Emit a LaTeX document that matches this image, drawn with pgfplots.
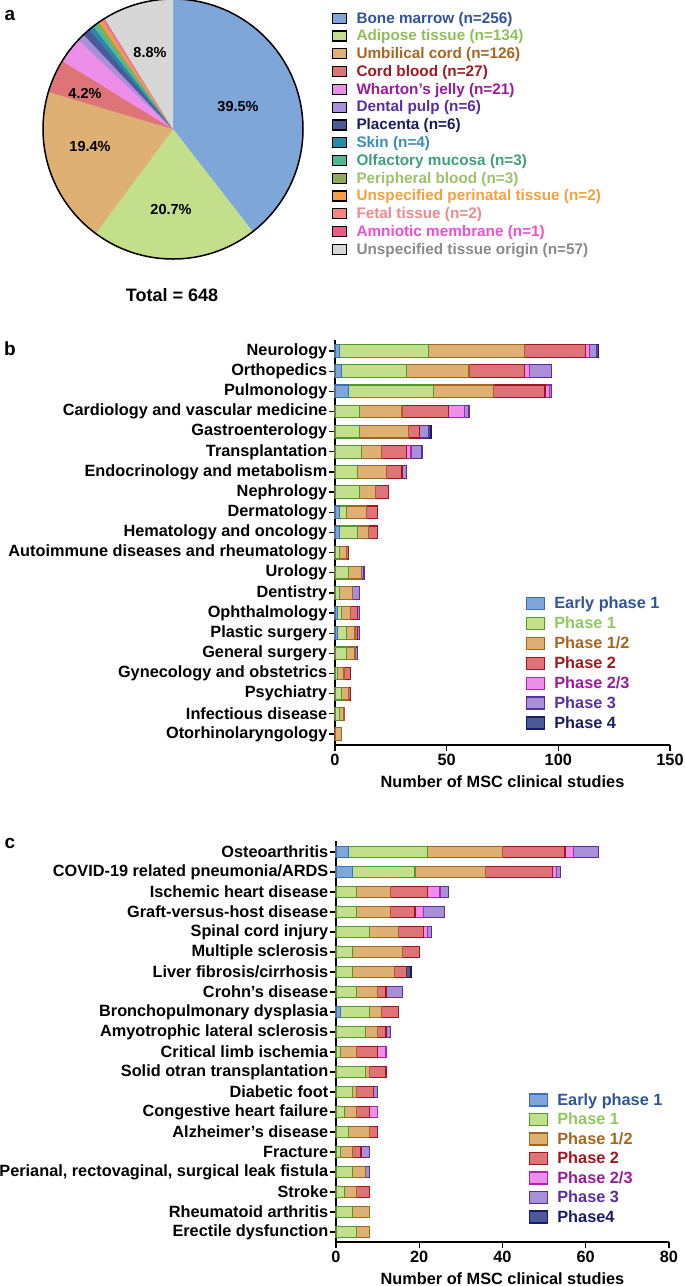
\documentclass[border=0pt]{standalone}
\usepackage{pgfplots}
\pgfplotsset{compat=1.18}
\usepackage{pgfplotstable}
\usepackage{fontspec}
\setmainfont{Liberation Sans}

\newcommand\fb{\bfseries\fontsize{16.3}{18}\selectfont}
\newcommand\fl{\bfseries\fontsize{15.3}{16}\selectfont}

% pie colours
\definecolor{s1}{HTML}{7EA6D9}\definecolor{t1}{HTML}{2F5597}
\definecolor{s2}{HTML}{C3DF8C}\definecolor{t2}{HTML}{8DC05A}
\definecolor{s3}{HTML}{DEB074}\definecolor{t3}{HTML}{A5661F}
\definecolor{s4}{HTML}{DF7478}\definecolor{t4}{HTML}{A01A22}
\definecolor{s5}{HTML}{EC8EEA}\definecolor{t5}{HTML}{9A1B9C}
\definecolor{s6}{HTML}{A890D8}\definecolor{t6}{HTML}{5B2EA0}
\definecolor{s7}{HTML}{4B5899}\definecolor{t7}{HTML}{1B1C5E}
\definecolor{s8}{HTML}{2A88A8}\definecolor{t8}{HTML}{3A8FB0}
\definecolor{s9}{HTML}{4FB79A}\definecolor{t9}{HTML}{3FA07A}
\definecolor{s10}{HTML}{8FAB55}\definecolor{t10}{HTML}{9CC26A}
\definecolor{s11}{HTML}{F5A040}\definecolor{t11}{HTML}{F5A040}
\definecolor{s12}{HTML}{F48484}\definecolor{t12}{HTML}{F08A8A}
\definecolor{s13}{HTML}{EE5A88}\definecolor{t13}{HTML}{EE4FD0}
\definecolor{s14}{HTML}{D7D7D7}\definecolor{t14}{HTML}{8A8A8A}
% bar colours
\definecolor{f1}{HTML}{7EA6D9}\definecolor{b1}{HTML}{3A70B8}\definecolor{l1}{HTML}{2F5597}
\definecolor{f2}{HTML}{C3DF8C}\definecolor{b2}{HTML}{4E9A2A}\definecolor{l2}{HTML}{8FCB5C}
\definecolor{f3}{HTML}{DEB074}\definecolor{b3}{HTML}{A2671F}\definecolor{l3}{HTML}{A5661F}
\definecolor{f4}{HTML}{DF7478}\definecolor{b4}{HTML}{A3151E}\definecolor{l4}{HTML}{A3151E}
\definecolor{f5}{HTML}{EC8EEA}\definecolor{b5}{HTML}{B023B0}\definecolor{l5}{HTML}{9A1B9C}
\definecolor{f6}{HTML}{A890D8}\definecolor{b6}{HTML}{5A2DA0}\definecolor{l6}{HTML}{5B2EA0}
\definecolor{f7}{HTML}{4B5899}\definecolor{b7}{HTML}{1A1C62}\definecolor{l7}{HTML}{1B1C5E}

\pgfplotstableread{
y e1 p1 p12 p2 p23 p3 p4
19 2 40 43 27 2 3 1
18 3 29 28 25 2 10 0
17 6 38 27 23 2 1 0
16 0 11 19 21 7 2 0
15 0 11 22 5 0 4 1
14 0 12 9 11 2 5 0
13 0 10 13 7 0 2 0
12 0 11 7 6 0 0 0
11 2 3 9 5 0 0 0
10 2 8 5 4 0 0 0
9 0 2 3 1 0 0 0
8 0 6 6 0 0 1 0
7 0 2 6 0 0 3 0
6 1 2 4 3 0 1 0
5 1 4 4 1 0 1 0
4 0 5 4 0 0 1 0
3 0 1 3 3 0 0 0
2 0 3 3 1 0 0 0
1 0 2 2 0 0 0 0
0 0 0 3 0 0 0 0
}\tabB

\pgfplotstableread{
y e1 p1 p12 p2 p23 p3 p4
19 3 19 18 15 2 6 0
18 4 15 17 16 1 1 0
17 0 5 8 9 3 2 0
16 0 5 8 6 2 5 0
15 0 8 7 6 1 1 0
14 0 4 12 4 0 0 0
13 0 4 10 3 0 0 1
12 0 5 5 2 0 4 0
11 1 7 3 4 0 0 0
10 0 7 3 2 0 1 0
9 0 1 4 5 2 0 0
8 0 7 1 4 0 0 0
7 0 4 1 4 0 1 0
6 0 2 3 3 2 0 0
5 0 3 5 2 0 0 0
4 0 1 3 2 0 2 0
3 0 4 3 0 0 1 0
2 0 2 3 3 0 0 0
1 0 4 4 0 0 0 0
0 0 5 3 0 0 0 0
}\tabC

\newcommand\mkcum[1]{%
\pgfplotstablecreatecol[expr={\thisrow{e1}}]{c1}#1%
\pgfplotstablecreatecol[expr={\thisrow{c1}+\thisrow{p1}}]{c2}#1%
\pgfplotstablecreatecol[expr={\thisrow{c2}+\thisrow{p12}}]{c3}#1%
\pgfplotstablecreatecol[expr={\thisrow{c3}+\thisrow{p2}}]{c4}#1%
\pgfplotstablecreatecol[expr={\thisrow{c4}+\thisrow{p23}}]{c5}#1%
\pgfplotstablecreatecol[expr={\thisrow{c5}+\thisrow{p3}}]{c6}#1%
\pgfplotstablecreatecol[expr={\thisrow{c6}+\thisrow{p4}}]{c7}#1%
}
\mkcum\tabB
\mkcum\tabC

\pgfplotsset{
  sb/.style n args={2}{xbar, bar shift=0pt, fill=#1, draw=#2, line width=1.2pt,
     x filter/.expression={x<=0 ? nan : x}},
  panel/.style={
    scale only axis,
    axis lines*=left,
    axis line style={line width=1.4pt, black},
    tick align=outside, major tick length=6pt,
    tick style={line width=1.3pt, black},
    tick label style={font=\fb, text=black},
    yticklabel style={inner xsep=1.5pt},
    /pgf/number format/assume math mode=true,
    ytick={0,...,19},
    xlabel={Number of MSC clinical studies},
    xlabel style={font=\fb, yshift=-3pt},
    legend cell align=left,
    reverse legend,
    legend image code/.code={\draw[##1] (0pt,-6pt) rectangle (18pt,6pt);},
  },
}

\newcommand\pa[1]{\csname pa#1\endcsname}
\newcommand\pb[1]{\csname pb#1\endcsname}

\begin{document}
\begin{tikzpicture}
\useasboundingbox (0pt,0pt) rectangle (685pt,-1286pt);
% cumulative pie angles from the counts
\def\pieangle{90}%
\newcount\pidx \pidx=0 %
\pgfplotsforeachungrouped \v in {256,134,126,27,21,6,6,4,3,3,2,2,1,57}{%
  \advance\pidx by 1 %
  \expandafter\xdef\csname pb\the\pidx\endcsname{\pieangle}%
  \pgfmathsetmacro\pieangle{\pieangle-\v/648*360}%
  \expandafter\xdef\csname pa\the\pidx\endcsname{\pieangle}%
}%

% ---------------- panel a -----------------
\begin{axis}[
  at={(173pt,-129pt)}, anchor=center,
  x=1pt, y=1pt, xmin=-131, xmax=131, ymin=-131, ymax=131,
  hide axis, clip=false,
  legend style={at={(1.094,0.961)}, anchor=north west, draw=none, fill=none,
     font=\fl, row sep=2.2pt, nodes={inner sep=1.5pt},
     /tikz/every odd column/.append style={column sep=8pt}},
  legend cell align=left,
  legend image code/.code={\draw[#1] (0pt,-5pt) rectangle (14pt,5pt);},
]
\pgfplotsinvokeforeach{1,...,14}{
  \fill[s#1, draw=s#1, line width=0.3pt] (axis cs:0,0) -- ++(\pb{#1}:130pt)
     arc[start angle=\pb{#1}, end angle=\pa{#1}, radius=130pt] -- cycle;
}
\draw[line width=1.5pt] (axis cs:0,0) circle[radius=130pt];
\node[font=\bfseries\fontsize{14.5}{16}\selectfont] at (axis cs:65,22) {39.5\%};
\node[font=\bfseries\fontsize{14.5}{16}\selectfont] at (axis cs:-2,-81) {20.7\%};
\node[font=\bfseries\fontsize{14.5}{16}\selectfont] at (axis cs:-83,-18) {19.4\%};
\node[font=\bfseries\fontsize{14.5}{16}\selectfont] at (axis cs:-88,36) {4.2\%};
\node[font=\bfseries\fontsize{14.5}{16}\selectfont] at (axis cs:-23,76) {8.8\%};
\addlegendimage{fill=s1, draw=black, line width=1.2pt}\addlegendentry{\textcolor{t1}{Bone marrow (n=256)}}
\addlegendimage{fill=s2, draw=black, line width=1.2pt}\addlegendentry{\textcolor{t2}{Adipose tissue (n=134)}}
\addlegendimage{fill=s3, draw=black, line width=1.2pt}\addlegendentry{\textcolor{t3}{Umbilical cord (n=126)}}
\addlegendimage{fill=s4, draw=black, line width=1.2pt}\addlegendentry{\textcolor{t4}{Cord blood (n=27)}}
\addlegendimage{fill=s5, draw=black, line width=1.2pt}\addlegendentry{\textcolor{t5}{Wharton's jelly (n=21)}}
\addlegendimage{fill=s6, draw=black, line width=1.2pt}\addlegendentry{\textcolor{t6}{Dental pulp (n=6)}}
\addlegendimage{fill=s7, draw=black, line width=1.2pt}\addlegendentry{\textcolor{t7}{Placenta (n=6)}}
\addlegendimage{fill=s8, draw=black, line width=1.2pt}\addlegendentry{\textcolor{t8}{Skin (n=4)}}
\addlegendimage{fill=s9, draw=black, line width=1.2pt}\addlegendentry{\textcolor{t9}{Olfactory mucosa (n=3)}}
\addlegendimage{fill=s10, draw=black, line width=1.2pt}\addlegendentry{\textcolor{t10}{Peripheral blood (n=3)}}
\addlegendimage{fill=s11, draw=black, line width=1.2pt}\addlegendentry{\textcolor{t11}{Unspecified perinatal tissue (n=2)}}
\addlegendimage{fill=s12, draw=black, line width=1.2pt}\addlegendentry{\textcolor{t12}{Fetal tissue (n=2)}}
\addlegendimage{fill=s13, draw=black, line width=1.2pt}\addlegendentry{\textcolor{t13}{Amniotic membrane (n=1)}}
\addlegendimage{fill=s14, draw=black, line width=1.2pt}\addlegendentry{\textcolor{t14}{Unspecified tissue origin (n=57)}}
\end{axis}
\node[font=\bfseries\fontsize{18}{20}\selectfont] at (172pt,-295pt) {Total = 648};
\node[font=\bfseries\fontsize{19}{20}\selectfont] at (10pt,-15pt) {a};
\node[font=\bfseries\fontsize{19}{20}\selectfont] at (10pt,-349pt) {b};
\node[font=\bfseries\fontsize{19}{20}\selectfont] at (10pt,-843pt) {c};

% ---------------- panel b -----------------
\begin{axis}[panel,
  at={(335pt,-745pt)}, anchor=south west,
  width=335pt, height=405pt,
  xmin=0, xmax=150, ymin=-0.55, ymax=19.55,
  xtick={0,50,100,150},
  bar width=0.63,
  yticklabels={Otorhinolaryngology, Infectious disease, Psychiatry, Gynecology and obstetrics, General surgery, Plastic surgery, Ophthalmology, Dentistry, Urology, Autoimmune diseases and rheumatology, Hematology and oncology, Dermatology, Nephrology, Endocrinology and metabolism, Transplantation, Gastroenterology, Cardiology and vascular medicine, Pulmonology, Orthopedics, Neurology},
  legend style={at={(0.5596,0.375)}, anchor=north west, draw=none, fill=none,
     font=\fb, row sep=3.6pt, nodes={inner sep=1.5pt},
     /tikz/every odd column/.append style={column sep=8pt}},
]
\addplot[sb={f7}{b7}] table[x=c7,y=y]{\tabB}; \addlegendentry{\textcolor{l7}{Phase 4}}
\addplot[sb={f6}{b6}] table[x=c6,y=y]{\tabB}; \addlegendentry{\textcolor{l6}{Phase 3}}
\addplot[sb={f5}{b5}] table[x=c5,y=y]{\tabB}; \addlegendentry{\textcolor{l5}{Phase 2/3}}
\addplot[sb={f4}{b4}] table[x=c4,y=y]{\tabB}; \addlegendentry{\textcolor{l4}{Phase 2}}
\addplot[sb={f3}{b3}] table[x=c3,y=y]{\tabB}; \addlegendentry{\textcolor{l3}{Phase 1/2}}
\addplot[sb={f2}{b2}] table[x=c2,y=y]{\tabB}; \addlegendentry{\textcolor{l2}{Phase 1}}
\addplot[sb={f1}{b1}] table[x=c1,y=y]{\tabB}; \addlegendentry{\textcolor{l1}{Early phase 1}}
\end{axis}

% ---------------- panel c -----------------
\begin{axis}[panel,
  at={(336pt,-1242pt)}, anchor=south west,
  width=333pt, height=401pt,
  xmin=0, xmax=80, ymin=-0.5, ymax=19.55,
  xtick={0,20,40,60,80},
  bar width=0.58,
  yticklabels={Erectile dysfunction, Rheumatoid arthritis, Stroke, {Perianal, rectovaginal, surgical leak fistula}, Fracture, Alzheimer's disease, Congestive heart failure, Diabetic foot, Solid otran transplantation, Critical limb ischemia, Amyotrophic lateral sclerosis, Bronchopulmonary dysplasia, Crohn's disease, Liver fibrosis/cirrhosis, Multiple sclerosis, Spinal cord injury, Graft-versus-host disease, Ischemic heart disease, COVID-19 related pneumonia/ARDS, Osteoarthritis},
  legend style={at={(0.569,0.38)}, anchor=north west, draw=none, fill=none,
     font=\fb, row sep=3.2pt, nodes={inner sep=1.5pt},
     /tikz/every odd column/.append style={column sep=8pt}},
]
\addplot[sb={f7}{b7}] table[x=c7,y=y]{\tabC}; \addlegendentry{\textcolor{l7}{Phase4}}
\addplot[sb={f6}{b6}] table[x=c6,y=y]{\tabC}; \addlegendentry{\textcolor{l6}{Phase 3}}
\addplot[sb={f5}{b5}] table[x=c5,y=y]{\tabC}; \addlegendentry{\textcolor{l5}{Phase 2/3}}
\addplot[sb={f4}{b4}] table[x=c4,y=y]{\tabC}; \addlegendentry{\textcolor{l4}{Phase 2}}
\addplot[sb={f3}{b3}] table[x=c3,y=y]{\tabC}; \addlegendentry{\textcolor{l3}{Phase 1/2}}
\addplot[sb={f2}{b2}] table[x=c2,y=y]{\tabC}; \addlegendentry{\textcolor{l2}{Phase 1}}
\addplot[sb={f1}{b1}] table[x=c1,y=y]{\tabC}; \addlegendentry{\textcolor{l1}{Early phase 1}}
\end{axis}
\end{tikzpicture}
\end{document}
